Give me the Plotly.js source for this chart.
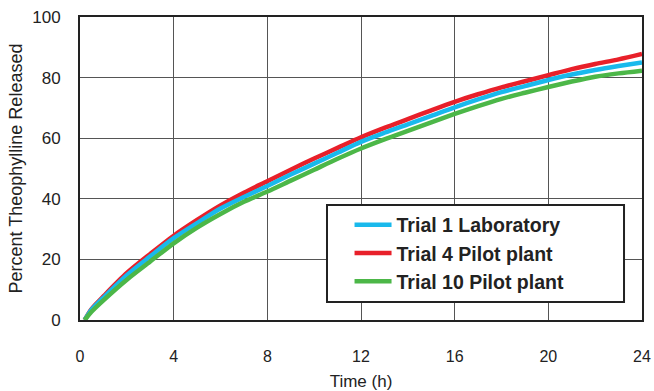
<!DOCTYPE html>
<html>
<head>
<meta charset="utf-8">
<script src="https://cdn.plot.ly/plotly-3.0.1.min.js"></script>
<style>html,body{margin:0;padding:0;background:#fff;}#chart{width:654px;height:391px;}</style>
</head>
<body>
<div id="chart"></div>
<script>
var timeH = [0.2, 0.5, 1, 2, 3, 4, 5, 6, 7, 8, 9, 10, 11, 12, 13, 14, 15, 16, 17, 18, 19, 20, 21, 22, 23, 24];
var trial1Lab = [0, 3.5, 7.4, 14.8, 21, 27, 32, 36.8, 40.6, 44.2, 48, 51.6, 55.2, 58.8, 61.8, 64.6, 67.4, 70.2, 72.8, 75.2, 77.2, 79.2, 81, 82.5, 83.8, 85];
var trial4Pilot = [0, 3.7, 7.8, 15.5, 21.8, 27.8, 33, 37.8, 42, 45.8, 49.6, 53.3, 56.8, 60.3, 63.4, 66.3, 69.2, 72, 74.5, 76.8, 78.8, 80.8, 82.8, 84.5, 86, 87.8];
var trial10Pilot = [0, 2.8, 6.5, 13.3, 19.3, 25.3, 30.5, 35, 39, 42.4, 46, 49.6, 53.2, 56.6, 59.6, 62.4, 65.2, 68, 70.6, 73, 75, 76.9, 78.7, 80.3, 81.4, 82.3];
var xTicks = [0, 4, 8, 12, 16, 20, 24];
var yTicks = [0, 20, 40, 60, 80, 100];
var seriesNames = ['Trial 1 Laboratory', 'Trial 4 Pilot plant', 'Trial 10 Pilot plant'];

var FONT = 'Liberation Sans, Arial, sans-serif';
var traces = [
  {x: timeH, y: trial4Pilot, name: seriesNames[1], legendrank: 2, mode: 'lines', line: {color: '#e8202a', width: 4.5, shape: 'spline', smoothing: 0.8}},
  {x: timeH, y: trial1Lab, name: seriesNames[0], legendrank: 1, mode: 'lines', line: {color: '#19b9ec', width: 4.5, shape: 'spline', smoothing: 0.8}},
  {x: timeH, y: trial10Pilot, name: seriesNames[2], legendrank: 3, mode: 'lines', line: {color: '#4cb748', width: 4.5, shape: 'spline', smoothing: 0.8}}
];
var layout = {
  width: 654, height: 391,
  margin: {l: 80, r: 12, t: 17, b: 71},
  paper_bgcolor: '#fff', plot_bgcolor: '#fff',
  font: {family: FONT, color: '#222', size: 17},
  showlegend: true,
  xaxis: {
    range: [0, 24], tickvals: xTicks, ticktext: xTicks.map(String),
    showgrid: true, gridcolor: '#555', gridwidth: 1,
    showline: true, mirror: true, linecolor: '#222', linewidth: 2,
    zeroline: false, ticks: '', ticklabelstandoff: 21,
    tickfont: {size: 16, family: FONT, color: '#222'},
    title: {text: 'Time (h)', font: {size: 17, family: FONT, color: '#222'}, standoff: 11}
  },
  yaxis: {
    range: [0, 100], tickvals: yTicks, ticktext: yTicks.map(String),
    showgrid: true, gridcolor: '#555', gridwidth: 1,
    showline: true, mirror: true, linecolor: '#222', linewidth: 2,
    zeroline: false, ticks: '', ticklabelstandoff: 14,
    tickfont: {size: 17, family: FONT, color: '#222'},
    title: {text: 'Percent Theophylline Released', font: {size: 18, family: FONT, color: '#222'}, standoff: 5}
  },
  shapes: [{
    type: 'rect', xref: 'paper', yref: 'paper',
    x0: 0.4395, x1: 0.968, y0: 0.0594, y1: 0.3795,
    fillcolor: '#fff', line: {color: '#222', width: 2}, layer: 'above'
  }],
  legend: {
    x: 0.4796, y: 0.378, xanchor: 'left', yanchor: 'top',
    bgcolor: 'rgba(0,0,0,0)', borderwidth: 0,
    traceorder: 'normal', itemwidth: 37,
    font: {family: FONT, size: 19.5, color: '#222', weight: 'bold'}
  }
};
Plotly.newPlot('chart', traces, layout, {displayModeBar: false, staticPlot: true});
</script>
</body>
</html>
